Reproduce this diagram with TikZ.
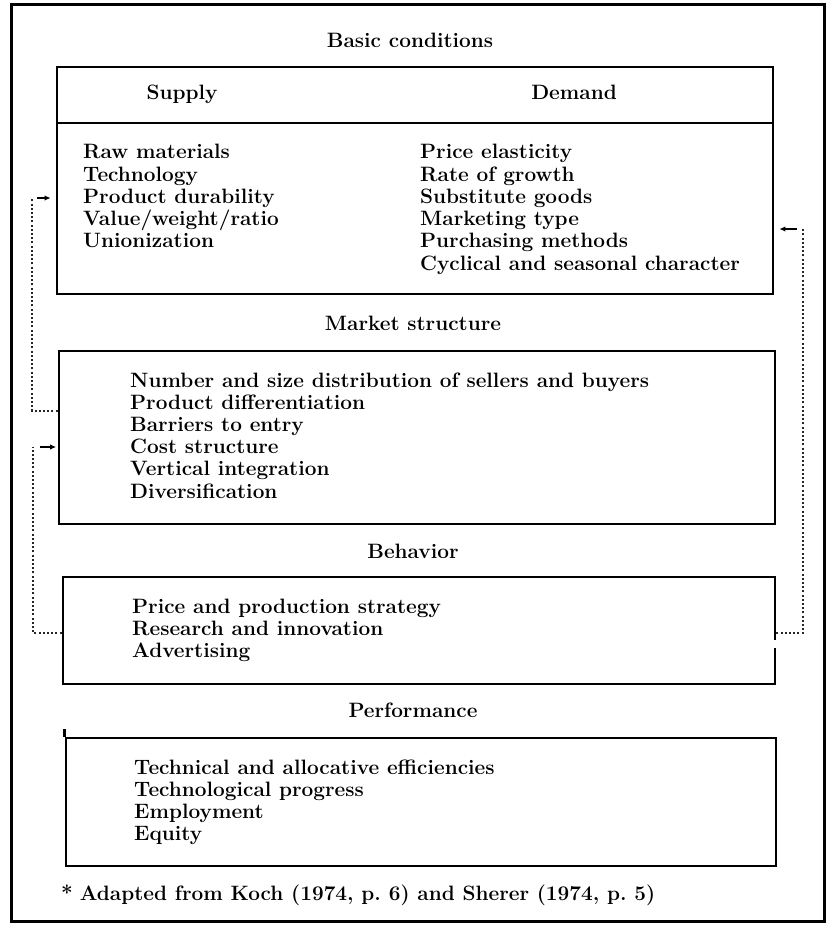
\documentclass[tikz,border=0pt]{standalone}
\usetikzlibrary{arrows.meta}
\begin{document}
\begin{tikzpicture}[x=1pt,y=-1pt,
  txt/.style={font=\fontsize{20.8}{22}\selectfont\bfseries, inner sep=0pt, anchor=base west},
  ttl/.style={font=\fontsize{20.8}{22}\selectfont\bfseries, inner sep=0pt, anchor=base},
  frame/.style={draw, line width=2.8pt, inner sep=0pt},
  fb/.style={draw=black!85, line width=2pt, dash pattern=on 2pt off 2.2pt},
  arr/.style={line width=1.8pt, -{Latex[length=6pt,width=5.5pt]}}]
\useasboundingbox (0,0) rectangle (829,925);
\draw[line width=3pt] (11,5) rectangle (824,921);

% boxes
\node[frame, minimum width=716pt, minimum height=227pt] (bc) at (415,180.5) {};
\node[frame, minimum width=716pt, minimum height=173pt] (ms) at (417,437.5) {};
\node[frame, minimum width=712pt, minimum height=107pt] (bh) at (419,630.5) {};
\node[frame, minimum width=710pt, minimum height=128pt] (bp) at (421,802) {};

\coordinate (sep) at (0,123);
\draw[line width=2.8pt] (bc.west |- sep) -- (bc.east |- sep);
\coordinate (g1) at (0,640);
\coordinate (g2) at (0,648);
\draw[white, line width=4.5pt] (bh.east |- g1) -- (bh.east |- g2);
\draw[line width=2.8pt] (bp.north west) -- ++(0,-8);

% titles
\node[ttl] (t1) at (410,48) {Basic conditions};
\node[ttl] (sup) at (182,100) {Supply};
\node[ttl] (dem) at (574,100) {Demand};
\node[ttl] (t2) at (413,330) {Market structure};
\node[ttl] (t3) at (413,558) {Behavior};
\node[ttl] (t4) at (413,717) {Performance};

% lists
\foreach \s [count=\i from 0] in {Raw materials, Technology, Product durability, Value/weight/ratio, Unionization}
  \node[txt] (s\i) at (83,159+22.2*\i) {\s};
\foreach \s [count=\i from 0] in {Price elasticity, Rate of growth, Substitute goods, Marketing type, Purchasing methods, Cyclical and seasonal character}
  \node[txt] (d\i) at (420,159+22.2*\i) {\s};
\foreach \s [count=\i from 0] in {Number and size distribution of sellers and buyers, Product differentiation, Barriers to entry, Cost structure, Vertical integration, Diversification}
  \node[txt] (m\i) at (130,387+22.2*\i) {\s};
\foreach \s [count=\i from 0] in {Price and production strategy, Research and innovation, Advertising}
  \node[txt] (b\i) at (132,613+22.2*\i) {\s};
\foreach \s [count=\i from 0] in {Technical and allocative efficiencies, Technological progress, Employment, Equity}
  \node[txt] (p\i) at (134,774+22.2*\i) {\s};

\node[txt] (fn) at (61,900) {*\hspace{7pt}Adapted from Koch (1974, p.~6) and Sherer (1974, p.~5)};

% feedback connectors
\coordinate (y411) at (0,411);
\coordinate (y633) at (0,633);
\coordinate (c1) at (32,198);
\coordinate (a1) at (37,198);
\coordinate (c2) at (33,447);
\coordinate (a2) at (40,447);
\coordinate (c3) at (803,229);
\coordinate (a3) at (797,229);
\draw[fb] (ms.west |- y411) -| (c1);
\draw[arr, shorten >=5pt] (a1) -- (bc.west |- a1);
\draw[fb] (bh.west |- y633) -| (c2);
\draw[arr, shorten >=1.5pt] (a2) -- (ms.west |- a2);
\draw[fb] (bh.east |- y633) -| (c3);
\draw[arr, shorten >=5pt] (a3) -- (bc.east |- a3);
\end{tikzpicture}
\end{document}
